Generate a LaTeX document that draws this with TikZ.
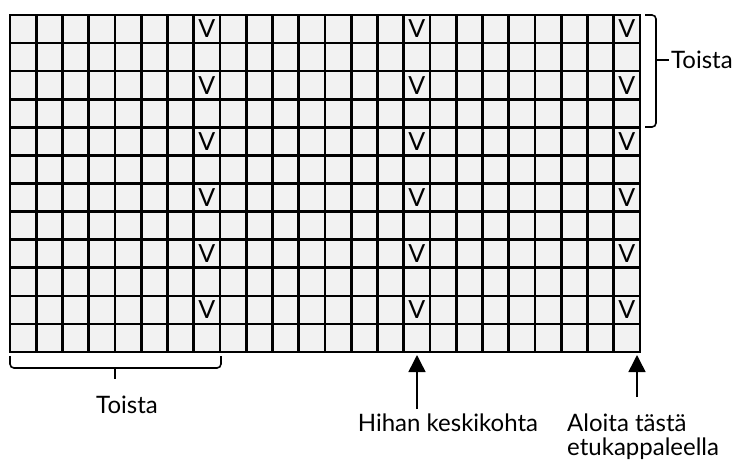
\documentclass[tikz,border=0pt]{standalone}
\usepackage{fontspec}
\setmainfont{Lato}
\usetikzlibrary{arrows.meta}
\definecolor{cellgray}{RGB}{242,242,242}

\begin{document}
\begin{tikzpicture}[x=1pt, y=-1pt,
      every node/.style={font=\fontsize{24}{27}\selectfont, inner sep=0pt},
      gridline/.style={line width=2.6pt, line cap=rect},
      vmark/.style={font=\fontsize{25}{27}\selectfont},
      repbrace/.style={line width=1.6pt, rounded corners=4pt},
      pointer/.style={line width=1.5pt, -{Triangle[length=17pt, width=17pt]}}
    ]
      \useasboundingbox (0,0) rectangle (750,461);

      % chart: 24 stitches x 12 rows
      \fill[cellgray] (10,15) rectangle (640,352);
      \foreach \i in {0,...,24}
        \draw[gridline] ({10+\i*26.25},15) -- ({10+\i*26.25},352);
      \foreach \j in {0,...,12}
        \draw[gridline] (10,{15+\j*28.0833}) -- (640,{15+\j*28.0833});

      % V stitches
      \foreach \c in {8,16,24}
        \foreach \r in {1,3,5,7,9,11}
          \node[vmark] (v\c-\r) at ({10+(\c-0.5)*26.25},{15+(\r-0.5)*28.0833}) {V};

      % repeat, rows
      \draw[repbrace] (645,15) -- (656,15) -- (656,127) -- (645,127);
      \draw[line width=1.6pt] (656,60) -- (669,60);
      \node[anchor=base west] (toistaR) at (671,68) {Toista};
      % repeat, stitches
      \draw[repbrace] (10,356) -- (10,368) -- (221,368) -- (221,356);
      \draw[line width=2.2pt] (115,368) -- (115,379);
      \node[anchor=base] (toistaB) at (127,413) {Toista};

      % sleeve middle
      \coordinate (midtip) at (417,355);
      \coordinate (midtail) at (417,409);
      \draw[pointer] (midtail) -- (midtip);
      \node[anchor=base] (hihan) at (448,431) {Hihan keskikohta};

      % start here
      \coordinate (starttip) at (637,355);
      \coordinate (starttail) at (637,397);
      \draw[pointer] (starttail) -- (starttip);
      \node[anchor=base west, align=left, font=\fontsize{24}{24}\selectfont] (aloita) at (567,455) {Aloita tästä\\etukappaleella};
    \end{tikzpicture}
\end{document}
